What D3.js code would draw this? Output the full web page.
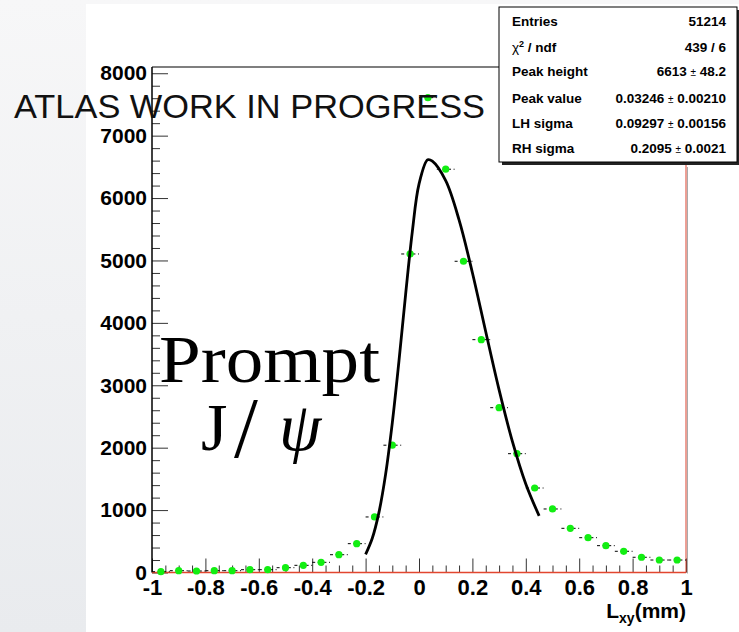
<!DOCTYPE html>
<html lang="en">

<head>
    <meta charset="UTF-8">
    <title>Prompt J/psi Lxy</title>
    <script src="https://cdn.jsdelivr.net/npm/d3@7"></script>
    <style>
        body { margin: 0; }
        svg { display: block; }
    </style>
</head>

<body>
    <svg></svg>
</body>
<script>
    const width = 739;
    const height = 632;

    // histogram bins (30 bins between -1 and 1), counts
    const binCenters = [-0.9667, -0.9, -0.8333, -0.7667, -0.7, -0.6333, -0.5667, -0.5, -0.4333, -0.3667,
        -0.3, -0.2333, -0.1667, -0.1, -0.0333, 0.0333, 0.1, 0.1667, 0.2333, 0.3,
        0.3667, 0.4333, 0.5, 0.5667, 0.6333, 0.7, 0.7667, 0.8333, 0.9, 0.9667];
    const binCounts = [13, 29, 24, 29, 29, 45, 45, 77, 115, 163,
        285, 462, 890, 2040, 5104, 7609, 6462, 4987, 3731, 2641,
        1904, 1354, 1018, 708, 558, 430, 340, 244, 200, 200];
    const binHalfWidth = 0.0333;

    // fitted curve
    const fitX = [-0.2, -0.175, -0.15, -0.125, -0.1, -0.075, -0.05, -0.025, 0, 0.0325, 0.05, 0.1, 0.15, 0.2, 0.25, 0.3, 0.35, 0.4, 0.45];
    const fitY = [290, 548, 963, 1576, 2397, 3390, 4462, 5463, 6222, 6613, 6590, 6278, 5650, 4803, 3857, 2926, 2097, 1419, 907];

    // axis ticks
    const yMajorTicks = [0, 1000, 2000, 3000, 4000, 5000, 6000, 7000, 8000];
    const xMajorTicks = [-1, -0.8, -0.6, -0.4, -0.2, 0, 0.2, 0.4, 0.6, 0.8, 1];

    // stats box rows
    const statLabels = ['Entries', 'χ2 / ndf', 'Peak height', 'Peak value', 'LH sigma', 'RH sigma'];
    const statValues = ['51214', '439 / 6', '6613 ± 48.2', '0.03246 ± 0.00210', '0.09297 ± 0.00156', '0.2095 ± 0.0021'];

    const frame = { left: 152, top: 67, right: 686, bottom: 572.5 };

    const svg = d3.select('svg')
        .attr('width', width)
        .attr('height', height);

    // slide background
    const defs = svg.append('defs');
    const grad = defs.append('linearGradient')
        .attr('id', 'bg')
        .attr('x1', 0).attr('y1', 0).attr('x2', 0).attr('y2', 1);
    grad.append('stop').attr('offset', '0%').attr('stop-color', '#f7f7f8');
    grad.append('stop').attr('offset', '100%').attr('stop-color', '#e9ebee');

    svg.append('rect')
        .attr('width', width)
        .attr('height', height)
        .attr('fill', 'url(#bg)');
    svg.append('rect')
        .attr('x', 86).attr('y', 4)
        .attr('width', width - 86).attr('height', height - 4)
        .attr('fill', '#ffffff');

    const x = d3.scaleLinear().domain([-1, 1]).range([frame.left, frame.right]);
    const y = d3.scaleLinear().domain([0, 8100]).range([frame.bottom, frame.top]);

    // y axis: major + minor ticks pointing into the frame
    const yMinor = d3.range(0, 8100, 200).filter(v => v % 1000 !== 0);
    svg.append('g')
        .attr('transform', `translate(${frame.left},0)`)
        .call(d3.axisLeft(y).tickValues(yMinor).tickSize(-8).tickFormat(''))
        .call(g => g.select('.domain').remove())
        .call(g => g.selectAll('line').attr('stroke', '#333'));

    svg.append('g')
        .attr('transform', `translate(${frame.left},0)`)
        .call(d3.axisLeft(y).tickValues(yMajorTicks).tickSize(-16).tickPadding(5).tickFormat(d3.format('d')))
        .call(g => g.select('.domain').remove())
        .call(g => g.selectAll('line').attr('stroke', '#333'))
        .call(g => g.selectAll('text')
            .attr('fill', '#000')
            .style('font', 'bold 21px "Liberation Sans", Arial, sans-serif'));

    // x axis
    const xMinor = d3.range(-0.95, 1, 0.05).filter(v => Math.abs(Math.round(v * 5) - v * 5) > 0.01);
    svg.append('g')
        .attr('transform', `translate(0,${frame.bottom})`)
        .call(d3.axisBottom(x).tickValues(xMinor).tickSize(-7).tickFormat(''))
        .call(g => g.select('.domain').remove())
        .call(g => g.selectAll('line').attr('stroke', '#333'));

    svg.append('g')
        .attr('transform', `translate(0,${frame.bottom})`)
        .call(d3.axisBottom(x).tickValues(xMajorTicks).tickSize(-14).tickPadding(7)
            .tickFormat(d => String(+d.toFixed(1))))
        .call(g => g.select('.domain').remove())
        .call(g => g.selectAll('line').attr('stroke', '#333'))
        .call(g => g.selectAll('text')
            .attr('fill', '#000')
            .style('font', 'bold 22px "Liberation Sans", Arial, sans-serif'));

    // frame
    svg.append('line')
        .attr('x1', frame.right + 1.5).attr('x2', frame.right + 1.5)
        .attr('y1', frame.top + 100).attr('y2', frame.bottom + 1)
        .attr('stroke', '#aaa').attr('stroke-width', 1);
    svg.append('line')
        .attr('x1', frame.left).attr('x2', frame.right)
        .attr('y1', frame.top).attr('y2', frame.top)
        .attr('stroke', '#000').attr('stroke-width', 1.2);
    svg.append('line')
        .attr('x1', frame.left).attr('x2', frame.left)
        .attr('y1', frame.top).attr('y2', frame.bottom)
        .attr('stroke', '#000').attr('stroke-width', 1.5);
    svg.append('line')
        .attr('x1', frame.right).attr('x2', frame.right)
        .attr('y1', frame.top).attr('y2', frame.bottom)
        .attr('stroke', '#d9402c').attr('stroke-width', 1);
    svg.append('line')
        .attr('x1', frame.left).attr('x2', frame.right)
        .attr('y1', frame.bottom).attr('y2', frame.bottom)
        .attr('stroke', '#e2462f').attr('stroke-width', 1.5);

    // x title
    svg.append('text')
        .attr('x', frame.right)
        .attr('y', 618)
        .attr('text-anchor', 'end')
        .style('font', 'bold 21px "Liberation Sans", Arial, sans-serif')
        .call(t => {
            t.append('tspan').text('L');
            t.append('tspan').attr('dy', 5).style('font-size', '14px').text('xy');
            t.append('tspan').attr('dy', -5).text('(mm)');
        });

    // points with dashed horizontal error bars
    const points = binCenters.map((c, i) => ({ c, n: binCounts[i] }));
    const gPts = svg.append('g');
    gPts.selectAll('line')
        .data(points)
        .join('line')
        .attr('x1', d => x(d.c - binHalfWidth))
        .attr('x2', d => x(d.c + binHalfWidth))
        .attr('y1', d => y(d.n))
        .attr('y2', d => y(d.n))
        .attr('stroke', '#000')
        .attr('stroke-width', 1)
        .attr('stroke-dasharray', '3,2.6');
    gPts.selectAll('circle')
        .data(points)
        .join('circle')
        .attr('cx', d => x(d.c))
        .attr('cy', d => y(d.n))
        .attr('r', 3.6)
        .attr('fill', '#12ee12');

    // fit curve
    const line = d3.line()
        .x(d => x(d[0]))
        .y(d => y(d[1]))
        .curve(d3.curveCatmullRom);
    svg.append('path')
        .datum(fitX.map((v, i) => [v, fitY[i]]))
        .attr('d', line)
        .attr('fill', 'none')
        .attr('stroke', '#000')
        .attr('stroke-width', 2.8);

    // annotations
    svg.append('text')
        .attr('x', 14)
        .attr('y', 117.5)
        .attr('textLength', 471)
        .attr('lengthAdjust', 'spacingAndGlyphs')
        .style('font', '34px "Liberation Sans", Arial, sans-serif')
        .attr('fill', '#111')
        .text('ATLAS WORK IN PROGRESS');

    svg.append('text')
        .attr('x', 159)
        .attr('y', 382)
        .attr('textLength', 221)
        .attr('lengthAdjust', 'spacingAndGlyphs')
        .style('font', '68px "Liberation Serif", "Times New Roman", serif')
        .text('Prompt');

    const jpsi = svg.append('text')
        .attr('y', 450)
        .style('font', '68px "Liberation Serif", "Times New Roman", serif');
    jpsi.append('tspan').attr('x', 201).text('J');
    jpsi.append('tspan').attr('x', 234).attr('dy', 7).style('font-size', '86px').text('/');
    jpsi.append('tspan').attr('x', 279).attr('dy', -7).style('font-style', 'italic').text('ψ');

    // stats box
    const box = { x: 499, y: 7, w: 238, h: 155 };
    svg.append('rect')
        .attr('x', box.x + 3).attr('y', box.y + 3)
        .attr('width', box.w).attr('height', box.h)
        .attr('fill', '#222');
    svg.append('rect')
        .attr('x', box.x).attr('y', box.y)
        .attr('width', box.w).attr('height', box.h)
        .attr('fill', '#fff')
        .attr('stroke', '#000')
        .attr('stroke-width', 1);

    const rowY = [26, 51.5, 76, 103, 127.5, 153];
    const gStats = svg.append('g')
        .style('font', 'bold 13.5px "Liberation Sans", Arial, sans-serif');
    gStats.selectAll('text.lab')
        .data(statLabels)
        .join('text')
        .attr('class', 'lab')
        .attr('x', 512)
        .attr('y', (d, i) => rowY[i])
        .each(function (d) {
            const t = d3.select(this);
            if (d.startsWith('χ2')) {
                t.append('tspan').style('font-weight', 'normal').text('χ');
                t.append('tspan').attr('dy', -5).style('font-size', '9px').text('2');
                t.append('tspan').attr('dy', 5).text(' / ndf');
            } else {
                t.text(d);
            }
        });
    gStats.selectAll('text.val')
        .data(statValues)
        .join('text')
        .attr('class', 'val')
        .attr('x', 726)
        .attr('y', (d, i) => rowY[i])
        .attr('text-anchor', 'end')
        .each(function (d) {
            const t = d3.select(this);
            const parts = d.split(' ± ');
            if (parts.length === 2) {
                t.append('tspan').text(parts[0] + ' ');
                t.append('tspan').style('font-weight', 'normal').style('font-size', '10px').text('±');
                t.append('tspan').text(' ' + parts[1]);
            } else {
                t.text(d);
            }
        });
</script>

</html>
